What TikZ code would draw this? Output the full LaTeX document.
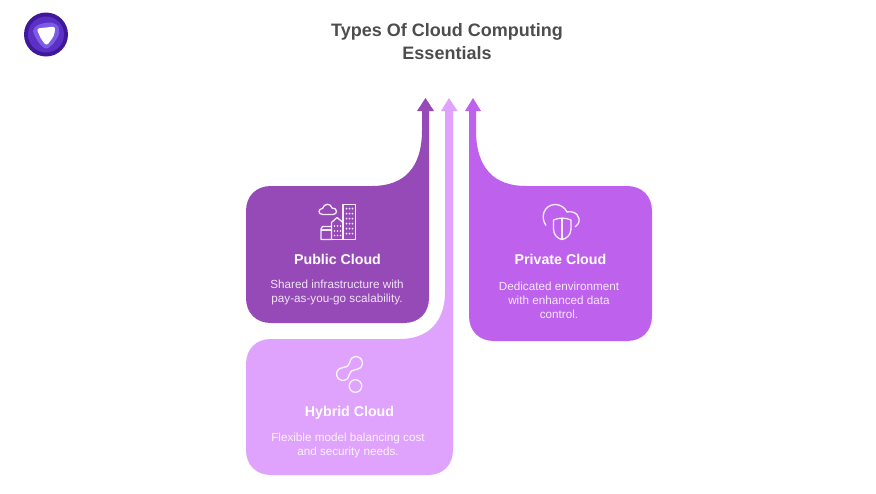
\documentclass[tikz,border=0pt]{standalone}
\usepackage{fontspec}
\setmainfont{Liberation Sans}
\usetikzlibrary{positioning}
\definecolor{publicfill}{HTML}{964AB7}
\definecolor{hybridfill}{HTML}{DFA3FE}
\definecolor{privatefill}{HTML}{BE62EE}
\definecolor{titlegray}{HTML}{4D4D4D}
\definecolor{logodark}{HTML}{40189A}
\definecolor{logomid}{HTML}{5B30C4}
\definecolor{logolight}{HTML}{7C5CE6}
\tikzset{titletext/.style = {text=titlegray, align=center, font=\fontsize{18}{23}\selectfont\bfseries},
         headtext/.style = {text=white, font=\fontsize{14.2}{17}\selectfont\bfseries},
         bodytext/.style = {text=white, opacity=0.85, align=center, font=\fontsize{11.7}{14.2}\selectfont},
         iconline/.style = {draw=white, line width=1.3pt, line join=round, opacity=0.9}}

\begin{document}
\begin{tikzpicture}[x=1pt, y=-1pt]
    \useasboundingbox (0, 0) rectangle (876, 493);

    \fill [logodark] (46, 34.5) circle (22);
    \fill [logomid] (46, 34.5) circle (18);
    \fill [logolight] plot [smooth cycle] coordinates {(33, 31) (38, 25) (50, 22.5) (58, 26) (59, 34) (53, 44) (46, 48.5) (39, 43)};
    \fill [white, rounded corners=3] (36.5, 28.5) -- (55.5, 26.5) -- (54, 36) -- (46.5, 46) -- (41, 39) -- cycle;

    \node [titletext] (title) at (447, 42) {Types Of Cloud Computing\\Essentials};

    % hybrid first, the gap to the public box stays white
    \fill [hybridfill] (271, 339) -- (400, 339)
      .. controls (428, 339) and (445, 322) .. (445, 292) -- (445, 111) -- (441, 111)
      -- (449, 98) -- (457.5, 111) -- (453, 111) -- (453, 450)
      .. controls (453, 465) and (443, 475) .. (428, 475) -- (271, 475)
      .. controls (256, 475) and (246, 465) .. (246, 450) -- (246, 364)
      .. controls (246, 349) and (256, 339) .. (271, 339) -- cycle;
    \fill [publicfill] (271, 186) -- (372, 186)
      .. controls (404, 186) and (422, 168) .. (422, 130) -- (422, 111) -- (417, 111)
      -- (425.5, 98) -- (434, 111) -- (429, 111) -- (429, 298)
      .. controls (429, 313) and (419, 323) .. (404, 323) -- (271, 323)
      .. controls (256, 323) and (246, 313) .. (246, 298) -- (246, 211)
      .. controls (246, 196) and (256, 186) .. (271, 186) -- cycle;
    \fill [privatefill] (627, 186) -- (526, 186)
      .. controls (494, 186) and (476, 168) .. (476, 130) -- (476, 111) -- (481, 111)
      -- (473, 98) -- (465, 111) -- (469, 111) -- (469, 316)
      .. controls (469, 331) and (479, 341) .. (494, 341) -- (627, 341)
      .. controls (642, 341) and (652, 331) .. (652, 316) -- (652, 211)
      .. controls (652, 196) and (642, 186) .. (627, 186) -- cycle;

    % buildings and cloud
    \draw [iconline] (343, 204.5) rectangle (355.5, 239.5);
    \draw [iconline] (331.5, 239.5) -- (331.5, 222.5) -- (337, 217.5) -- (343, 222.5);
    \draw [iconline] (331.5, 239.5) -- (343, 239.5);
    \draw [iconline] (331.5, 226.5) -- (322.5, 226.5) -- (321, 229) -- (321, 239.5) -- (331.5, 239.5);
    \draw [iconline] (321, 230) -- (331.5, 230);
    \draw [iconline] (323, 214.5) .. controls (317.5, 214.5) and (318, 208.5) .. (322.5, 208.5)
      .. controls (324, 203) and (331, 203) .. (332, 208)
      .. controls (337.5, 207.5) and (338, 214.5) .. (333, 214.5) -- cycle;
    \foreach \y in {208.5,213.5,218.5,223.5,228.5,233.5} {
      \foreach \x in {346.5,349.5,352.5} {
        \fill [white, opacity=0.9] (\x, \y) circle (1);
      };
    };
    \foreach \y in {226,231,235.5} {
      \foreach \x in {334.5,337.5,340.5} {
        \fill [white, opacity=0.9] (\x, \y) circle (0.9);
      };
    };

    % cloud and shield
    \draw [iconline] (546, 225.5) .. controls (540, 217) and (544, 205) .. (555, 204.5)
      .. controls (561, 204.5) and (565, 208) .. (567, 212)
      .. controls (575, 210) and (582, 217) .. (578, 224) -- (575, 227);
    \draw [iconline] (553.5, 220) .. controls (559, 217.5) and (565, 217.5) .. (571, 220)
      -- (571, 229) .. controls (571, 235) and (566, 239) .. (562, 239.5)
      .. controls (558, 239) and (553.5, 235) .. (553.5, 229) -- cycle;
    \draw [iconline] (562, 218.5) -- (562, 239.5);

    % linked rings
    \draw [iconline] plot [smooth cycle] coordinates {(336.5, 374) (338.4, 369.4) (343, 367.5) (347, 366.5)
      (349.5, 363) (351.4, 358.4) (356, 356.5) (360.6, 358.4) (362.5, 363) (360.6, 367.6) (356, 369.5)
      (351.5, 371) (349.5, 374) (347.6, 378.6) (343, 380.5) (338.4, 378.6)};
    \draw [iconline] (355.5, 386) circle (6.3);

    \node [headtext] (publichead) at (337.5, 259.5) {Public Cloud};
    \node [bodytext] (publicbody) at (337, 292.5) {Shared infrastructure with\\pay-as-you-go scalability.};
    \node [headtext] (privatehead) at (560.5, 259.5) {Private Cloud};
    \node [bodytext] (privatebody) at (559, 300.5) {Dedicated environment\\with enhanced data\\control.};
    \node [headtext] (hybridhead) at (349.5, 413) {Hybrid Cloud};
    \node [bodytext] (hybridbody) at (348, 445.5) {Flexible model balancing cost\\and security needs.};
\end{tikzpicture}
\end{document}
